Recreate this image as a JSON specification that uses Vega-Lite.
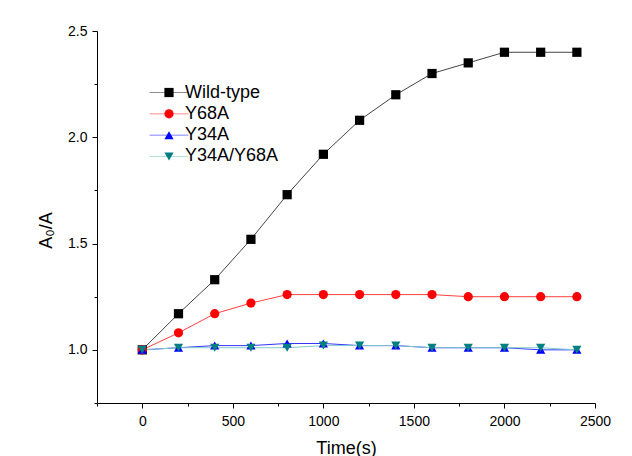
{
  "$schema": "https://vega.github.io/schema/vega-lite/v6.json",
  "width": 498,
  "height": 372,
  "autosize": "none",
  "padding": {"left": 97, "top": 31, "right": 37, "bottom": 53},
  "background": "white",
  "config": {
    "view": {"stroke": null},
    "font": "Liberation Sans",
    "axis": {
      "grid": false,
      "domainColor": "#000",
      "tickColor": "#000",
      "labelColor": "#000",
      "titleColor": "#000",
      "labelFontSize": 14,
      "titleFontSize": 18,
      "titleFontWeight": "normal",
      "labelFont": "Liberation Sans",
      "titleFont": "Liberation Sans"
    },
    "legend": {"labelFont": "Liberation Sans", "labelColor": "#000"}
  },
  "data": {
    "values": [
      {"series": "Wild-type", "t": 0, "v": 1.0},
      {"series": "Wild-type", "t": 200, "v": 1.17},
      {"series": "Wild-type", "t": 400, "v": 1.33},
      {"series": "Wild-type", "t": 600, "v": 1.52},
      {"series": "Wild-type", "t": 800, "v": 1.73},
      {"series": "Wild-type", "t": 1000, "v": 1.92},
      {"series": "Wild-type", "t": 1200, "v": 2.08},
      {"series": "Wild-type", "t": 1400, "v": 2.2},
      {"series": "Wild-type", "t": 1600, "v": 2.3},
      {"series": "Wild-type", "t": 1800, "v": 2.35},
      {"series": "Wild-type", "t": 2000, "v": 2.4},
      {"series": "Wild-type", "t": 2200, "v": 2.4},
      {"series": "Wild-type", "t": 2400, "v": 2.4},
      {"series": "Y68A", "t": 0, "v": 1.0},
      {"series": "Y68A", "t": 200, "v": 1.08},
      {"series": "Y68A", "t": 400, "v": 1.17},
      {"series": "Y68A", "t": 600, "v": 1.22},
      {"series": "Y68A", "t": 800, "v": 1.26},
      {"series": "Y68A", "t": 1000, "v": 1.26},
      {"series": "Y68A", "t": 1200, "v": 1.26},
      {"series": "Y68A", "t": 1400, "v": 1.26},
      {"series": "Y68A", "t": 1600, "v": 1.26},
      {"series": "Y68A", "t": 1800, "v": 1.25},
      {"series": "Y68A", "t": 2000, "v": 1.25},
      {"series": "Y68A", "t": 2200, "v": 1.25},
      {"series": "Y68A", "t": 2400, "v": 1.25},
      {"series": "Y34A", "t": 0, "v": 1.0},
      {"series": "Y34A", "t": 200, "v": 1.01},
      {"series": "Y34A", "t": 400, "v": 1.02},
      {"series": "Y34A", "t": 600, "v": 1.02},
      {"series": "Y34A", "t": 800, "v": 1.03},
      {"series": "Y34A", "t": 1000, "v": 1.03},
      {"series": "Y34A", "t": 1200, "v": 1.02},
      {"series": "Y34A", "t": 1400, "v": 1.02},
      {"series": "Y34A", "t": 1600, "v": 1.01},
      {"series": "Y34A", "t": 1800, "v": 1.01},
      {"series": "Y34A", "t": 2000, "v": 1.01},
      {"series": "Y34A", "t": 2200, "v": 1.0},
      {"series": "Y34A", "t": 2400, "v": 1.0},
      {"series": "Y34A/Y68A", "t": 0, "v": 1.0},
      {"series": "Y34A/Y68A", "t": 200, "v": 1.01},
      {"series": "Y34A/Y68A", "t": 400, "v": 1.01},
      {"series": "Y34A/Y68A", "t": 600, "v": 1.01},
      {"series": "Y34A/Y68A", "t": 800, "v": 1.01},
      {"series": "Y34A/Y68A", "t": 1000, "v": 1.02},
      {"series": "Y34A/Y68A", "t": 1200, "v": 1.02},
      {"series": "Y34A/Y68A", "t": 1400, "v": 1.02},
      {"series": "Y34A/Y68A", "t": 1600, "v": 1.01},
      {"series": "Y34A/Y68A", "t": 1800, "v": 1.01},
      {"series": "Y34A/Y68A", "t": 2000, "v": 1.01},
      {"series": "Y34A/Y68A", "t": 2200, "v": 1.01},
      {"series": "Y34A/Y68A", "t": 2400, "v": 1.0}
    ]
  },
  "encoding": {
    "x": {
      "field": "t", "type": "quantitative",
      "scale": {"domain": [-250, 2500], "nice": false, "zero": false},
      "axis": {
        "title": "Time(s)",
        "values": [-250, 0, 250, 500, 750, 1000, 1250, 1500, 1750, 2000, 2250, 2500],
        "labelExpr": "datum.value % 500 === 0 ? format(datum.value, 'd') : ''",
        "tickSize": {"condition": {"test": "datum.value % 500 !== 0", "value": 3}, "value": 5},
        "labelPadding": 6,
        "titlePadding": 11,
        "labelFlush": false,
        "labelOverlap": false
      }
    },
    "y": {
      "field": "v", "type": "quantitative",
      "scale": {"domain": [0.75, 2.5], "nice": false, "zero": false},
      "axis": {
        "title": "A₀/A",
        "titleY": 199,
        "values": [0.75, 1, 1.25, 1.5, 1.75, 2, 2.25, 2.5],
        "labelExpr": "(datum.value * 4) % 2 === 0 ? format(datum.value, '.1f') : ''",
        "tickSize": {"condition": {"test": "(datum.value * 4) % 2 !== 0", "value": 3}, "value": 5},
        "labelPadding": 5,
        "titlePadding": 12,
        "labelFlush": false,
        "labelOverlap": false
      }
    }
  },
  "layer": [
    {
      "mark": {"type": "line", "strokeWidth": 1},
      "encoding": {
        "stroke": {
          "field": "series", "type": "nominal",
          "sort": ["Wild-type", "Y68A", "Y34A", "Y34A/Y68A"],
          "scale": {"range": ["#444444", "#ff4040", "#3333ff", "#80cccc"]},
          "legend": {
            "orient": "none", "legendX": 54, "legendY": 52.5, "title": null,
            "symbolType": "M-4.2,0H4.2", "symbolSize": 85, "symbolStrokeWidth": 1, "symbolOpacity": 0.6, "symbolOffset": 9,
            "labelFontSize": 18, "labelOpacity": 0, "labelOffset": 7, "rowPadding": 3.33, "padding": 0, "zindex": 0
          }
        }
      }
    },
    {
      "mark": {"type": "point", "filled": true, "opacity": 1, "size": 85, "strokeWidth": 0},
      "encoding": {
        "fill": {
          "field": "series", "type": "nominal",
          "scale": {"domain": ["Wild-type", "Y68A", "Y34A", "Y34A/Y68A"], "range": ["#000000", "#ff0000", "#0000ff", "#008080"]},
          "legend": {
            "orient": "none", "legendX": 54, "legendY": 52.5, "title": null,
            "symbolSize": 85, "symbolStrokeWidth": 0, "symbolOpacity": 1, "symbolOffset": 9,
            "labelFontSize": 18, "labelOffset": 7, "rowPadding": 3.33, "padding": 0, "zindex": 1
          }
        },
        "shape": {
          "field": "series", "type": "nominal",
          "scale": {"domain": ["Wild-type", "Y68A", "Y34A", "Y34A/Y68A"], "range": ["square", "circle", "triangle-up", "triangle-down"]}
        }
      }
    }
  ]
}
